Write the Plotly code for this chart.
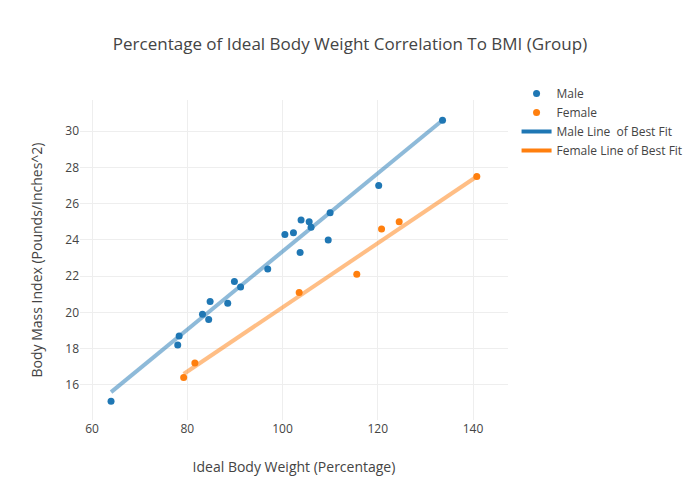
import plotly.graph_objects as go

male_x = [64, 78, 78.3, 83.2, 84.5, 84.8, 88.5, 89.9, 91.2, 96.9, 100.5, 102.3, 103.7, 103.9, 105.6, 106.0, 109.6, 110.0, 120.2, 133.6]
male_y = [15.1, 18.2, 18.7, 19.9, 19.6, 20.6, 20.5, 21.7, 21.4, 22.4, 24.3, 24.4, 23.3, 25.1, 25.0, 24.7, 24.0, 25.5, 27.0, 30.6]

female_x = [79.25, 81.6, 103.5, 115.6, 120.8, 124.5, 140.8]
female_y = [16.4, 17.2, 21.1, 22.1, 24.6, 25.0, 27.5]

male_fit_x = [64, 133.6]
male_fit_y = [15.6, 30.6]
female_fit_x = [79.25, 140.8]
female_fit_y = [16.6, 27.5]

BLUE = "#1f77b4"
ORANGE = "#ff7f0e"

fig = go.Figure()
fig.add_trace(go.Scatter(x=male_x, y=male_y, mode="markers", name="Male",
                         marker=dict(color=BLUE, size=7)))
fig.add_trace(go.Scatter(x=female_x, y=female_y, mode="markers", name="Female",
                         marker=dict(color=ORANGE, size=7)))
# faded fit lines drawn on the plot; legend shows them in full colour
fig.add_trace(go.Scatter(x=male_fit_x, y=male_fit_y, mode="lines", name="Male Line  of Best Fit",
                         line=dict(color=BLUE, width=4), opacity=0.5,
                         legendgroup="mfit", showlegend=False))
fig.add_trace(go.Scatter(x=female_fit_x, y=female_fit_y, mode="lines", name="Female Line of Best Fit",
                         line=dict(color=ORANGE, width=4), opacity=0.5,
                         legendgroup="ffit", showlegend=False))
fig.add_trace(go.Scatter(x=[None], y=[None], mode="lines", name="Male Line  of Best Fit",
                         line=dict(color=BLUE, width=4), legendgroup="mfit"))
fig.add_trace(go.Scatter(x=[None], y=[None], mode="lines", name="Female Line of Best Fit",
                         line=dict(color=ORANGE, width=4), legendgroup="ffit"))

fig.update_layout(
    width=700, height=500,
    template="none",
    paper_bgcolor="white", plot_bgcolor="white",
    font=dict(family="Open Sans, sans-serif", color="#444", size=12),
    title=dict(text="Percentage of Ideal Body Weight Correlation To BMI (Group)",
               x=0.5, xanchor="center", y=0.912, yanchor="middle", font=dict(size=17)),
    margin=dict(l=80, r=80, t=100, b=80),
    legend=dict(x=1.02, y=1.066, xanchor="left", yanchor="top", font=dict(size=12),
                tracegroupgap=0),
    xaxis=dict(title=dict(text="Ideal Body Weight (Percentage)", font=dict(size=14)),
               range=[57.48, 147.35], dtick=20, tick0=0, showgrid=True, gridcolor="#eee",
               zeroline=False, showline=False, ticks="", tickfont=dict(size=12)),
    yaxis=dict(title=dict(text="Body Mass Index (Pounds/Inches^2)", font=dict(size=14)),
               range=[14.06, 31.72], dtick=2, tick0=0, showgrid=True, gridcolor="#eee",
               zeroline=False, showline=False, ticks="", tickfont=dict(size=12)),
)

fig.write_html("out.html")
